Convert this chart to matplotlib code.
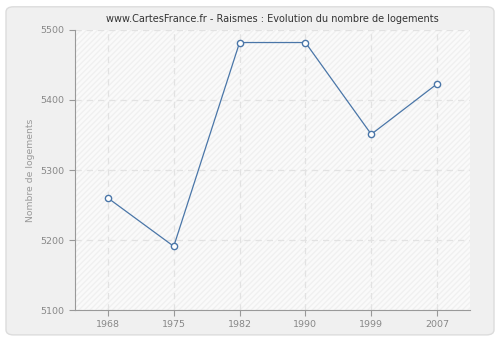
import matplotlib
matplotlib.use("Agg")
import matplotlib.pyplot as plt
from matplotlib.patches import FancyBboxPatch, Rectangle

years = ["1968", "1975", "1982", "1990", "1999", "2007"]
logements = [5260, 5191, 5482, 5482, 5351, 5423]
yticks = [5100, 5200, 5300, 5400, 5500]

fig = plt.figure(figsize=(5, 3.4), dpi=100, facecolor="white")
# rounded grey card behind everything
card = FancyBboxPatch(
    (0.012, 0.015), 0.976, 0.965, boxstyle="round,pad=0,rounding_size=0.015",
    transform=fig.transFigure, facecolor="#f0f0f0", edgecolor="#dcdcdc",
    linewidth=1, zorder=-10)
fig.add_artist(card)

ax = fig.add_axes([0.15, 0.088, 0.79, 0.824])
ax.set_zorder(1)
ax.set_facecolor("#fafafa")
ax.add_patch(Rectangle((0, 0), 1, 1, transform=ax.transAxes, facecolor="none",
                       edgecolor="#f0f0f0", hatch="//////", linewidth=0, zorder=0))

x = range(len(years))
ax.plot(x, logements, color="#4a76a8", linewidth=0.9, marker="o", markersize=4.5,
        markerfacecolor="white", markeredgecolor="#4a76a8", markeredgewidth=1, zorder=3)

ax.set_xlim(-0.5, len(years) - 0.5)
ax.set_ylim(5100, 5500)
ax.set_xticks(list(x))
ax.set_xticklabels(years)
ax.set_yticks(yticks)
ax.grid(True, color="#e2e2e2", linestyle=(0, (5, 4)), linewidth=0.9)
ax.set_axisbelow(True)

for side in ["top", "right"]:
    ax.spines[side].set_visible(False)
for side in ["left", "bottom"]:
    ax.spines[side].set_color("#999999")
ax.tick_params(colors="#999999", labelcolor="#888888", labelsize=6.8, length=4)
ax.set_ylabel("Nombre de logements", color="#999999", fontsize=6.7)
ax.set_title("www.CartesFrance.fr - Raismes : Evolution du nombre de logements",
             fontsize=7, color="#333333", pad=6)

fig.savefig("out.png", dpi=100, facecolor=fig.get_facecolor())
